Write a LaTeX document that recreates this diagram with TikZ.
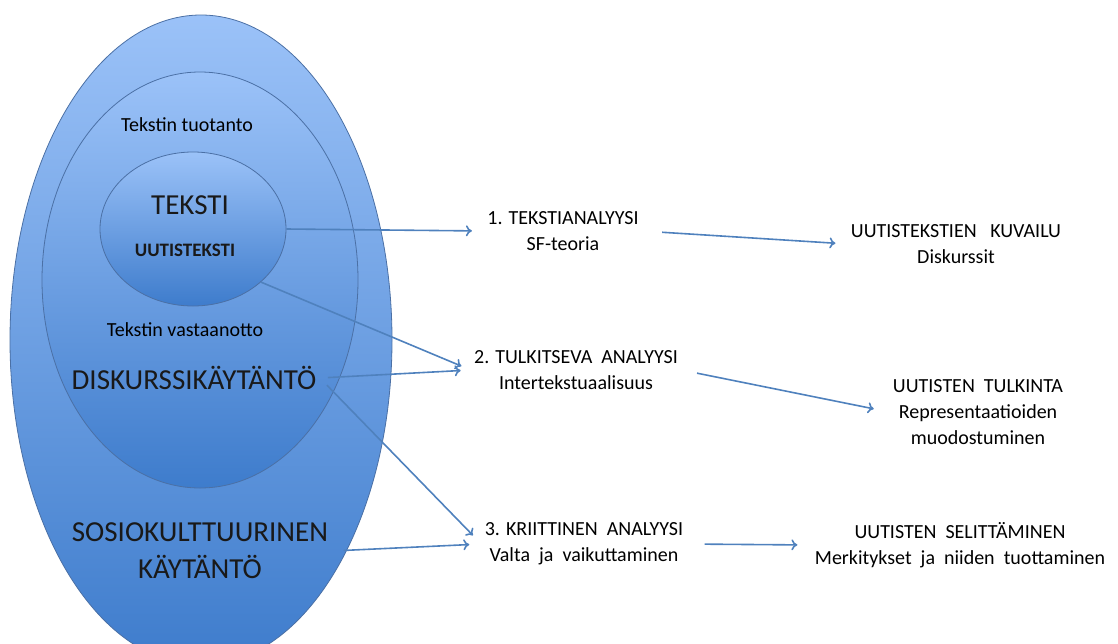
\documentclass[tikz,border=0pt]{standalone}
\usepackage{fontspec}
\setmainfont{Carlito}
\usetikzlibrary{shapes.geometric, positioning, arrows.meta}

\definecolor{lightblu}{RGB}{155,194,248}
\definecolor{darkblu}{RGB}{62,124,204}
\definecolor{rimblu}{RGB}{75,112,165}
\definecolor{arrowblu}{RGB}{79,129,189}

\tikzset{
  layer/.style={ellipse, draw=rimblu, line width=0.8pt, top color=lightblu, bottom color=darkblu, inner sep=0pt},
  big/.style={font=\fontsize{29}{37}\selectfont, text=black!90},
  small/.style={font=\fontsize{20}{26}\selectfont, text=black},
  arr/.style={draw=arrowblu, line width=1.6pt, -{To[length=6pt, width=11pt]}},
}

\begin{document}
\begin{tikzpicture}[x=1pt, y=-1pt]
    \useasboundingbox (0,0) rectangle (1118,643);
    \clip (0,0) rectangle (1118,643);
    % nested layers
    \node[layer, minimum width=382pt, minimum height=650pt] (outer) at (201,340) {};
    \node[layer, minimum width=316pt, minimum height=416pt] (middle) at (200,280) {};
    \node[layer, minimum width=186pt, minimum height=154pt] (inner) at (193,229) {};
    \node[small] (prod) at (187,125) {Tekstin tuotanto};
    \node[big] (teksti) at (190,205) {TEKSTI};
    \node[font=\fontsize{19}{22}\selectfont\bfseries, text=black!90] (uutis) at (185,250) {UUTISTEKSTI};
    \node[small] (recep) at (185,330) {Tekstin vastaanotto};
    \node[big] (diskurssi) at (194,378) {DISKURSSIKÄYTÄNTÖ};
    \node[big, align=center] (sosio) at (200,551) {SOSIOKULTTUURINEN\\KÄYTÄNTÖ};
    % analysis levels
    \node[small, align=center] (ana1) at (563,231) {1. TEKSTIANALYYSI\\SF-teoria};
    \node[small, align=center] (res1) at (956,244) {UUTISTEKSTIEN\ \ \ KUVAILU\\Diskurssit};
    \node[small, align=center] (ana2) at (576,370) {2. TULKITSEVA\ \ ANALYYSI\\Intertekstuaalisuus};
    \node[small, align=center] (res2) at (978,412) {UUTISTEN\ \ TULKINTA\\Representaatioiden\\muodostuminen};
    \node[small, align=center] (ana3) at (584,544) {3. KRIITTINEN\ \ ANALYYSI\\Valta\ \ ja\ \ vaikuttaminen};
    \node[small, align=center] (res3) at (960,545) {UUTISTEN\ \ SELITTÄMINEN\\Merkitykset\ \ ja\ \ niiden\ \ tuottaminen};
    % arrows
    \draw[arr, shorten >=12pt] (inner.east) -- (ana1.west);
    \draw[arr, shorten >=10pt] (inner.-38) -- (ana2.west);
    \draw[arr, shorten <=8pt, shorten >=10pt] (diskurssi.east) -- (ana2.west);
    \draw[arr, shorten <=10pt, shorten >=12pt] (diskurssi.east) -- (ana3.west);
    \draw[arr, shorten <=12pt, shorten >=12pt] (sosio.east) -- (ana3.west);
    \draw[arr, shorten <=20pt, shorten >=12pt] (ana1.east) -- (res1.west);
    \draw[arr, shorten <=16pt, shorten >=16pt] (ana2.east) -- (res2.west);
    \draw[arr, shorten <=18pt, shorten >=14pt] (ana3.east) -- (res3.west);
\end{tikzpicture}
\end{document}
